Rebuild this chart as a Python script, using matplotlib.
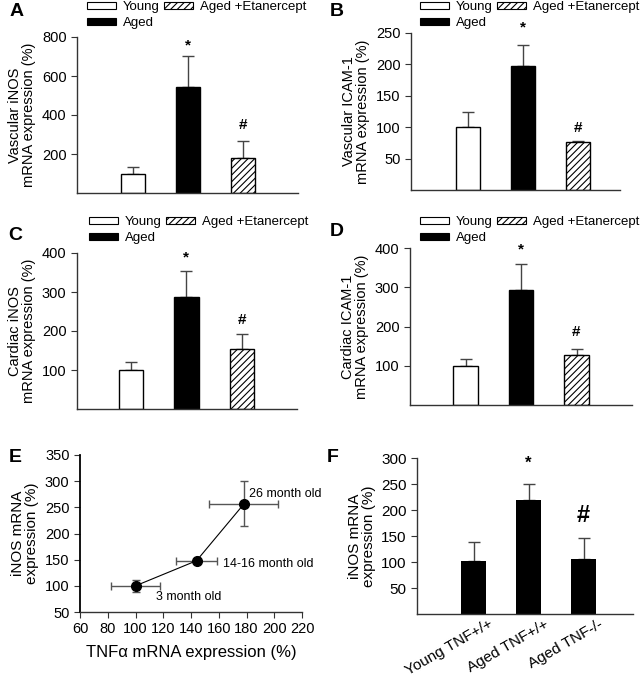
import numpy as np
import matplotlib
matplotlib.use("Agg")
import matplotlib.pyplot as plt
from matplotlib.patches import Patch
from matplotlib.transforms import ScaledTranslation

plt.rcParams['font.family'] = ['Liberation Sans', 'DejaVu Sans']
plt.rcParams['hatch.linewidth'] = 0.8

W, H = 640, 680

groups = ["Young", "Aged", "Aged +Etanercept"]

# panel A-D: mean and upper error (top of error bar)
a_mean = [100, 545, 180]
a_top = [135, 705, 265]
b_mean = [100, 198, 76]
b_top = [124, 231, 78]
c_mean = [100, 287, 153]
c_top = [120, 353, 193]
d_mean = [100, 293, 128]
d_top = [118, 360, 143]

# panel E
e_tnf = [100, 144, 178]
e_tnf_err = [18, 15, 25]
e_inos = [100, 148, 256]
e_inos_lo = [12, 0, 42]
e_inos_hi = [12, 0, 44]
e_labels = ["3 month old", "14-16 month old", "26 month old"]
e_label_xy = [(115, 79), (163, 142), (182, 275)]

# panel F
f_cats = ["Young TNF+/+", "Aged TNF+/+", "Aged TNF-/-"]
f_mean = [101, 220, 106]
f_top = [138, 250, 146]

fig = plt.figure(figsize=(6.4, 6.8), dpi=100)


def px_axes(l, r, t, b):
    return fig.add_axes([l / W, 1 - b / H, (r - l) / W, (b - t) / H])


def style(ax, fs=10.5):
    for s in ['top', 'right']:
        ax.spines[s].set_visible(False)
    for s in ['left', 'bottom']:
        ax.spines[s].set_color('#333333')
        ax.spines[s].set_linewidth(1.0)
    ax.tick_params(axis='y', direction='out', length=4, labelsize=fs, color='#333333')


def mark(ax, sym, x, y, off_px, fs):
    # off_px: distance in pixels from error bar top to symbol centre
    ax.annotate(sym, (x, y), xytext=(0, off_px * 0.72), textcoords='offset points',
                ha='center', va='center', fontsize=fs, fontweight='bold')


faces = ['white', 'black', 'white']
hatches = [None, None, '/////']


def bar_panel(ax, mean, top, ylim, yticks, xlim, ylabel, star_off, hash_off):
    x = np.arange(1, 4)
    err = np.array(top) - np.array(mean)
    ax.bar(x, mean, width=0.44, color=faces, edgecolor='black', linewidth=1.0,
           hatch=hatches, zorder=2)
    ax.errorbar(x, mean, yerr=[np.zeros(3), err], fmt='none', ecolor='#444444',
                elinewidth=1.0, capsize=4, capthick=1.0, zorder=1)
    ax.set_ylim(*ylim)
    ax.set_yticks(yticks)
    ax.set_xlim(*xlim)
    ax.set_xticks([])
    ax.set_ylabel(ylabel, fontsize=10.5, linespacing=1.0)
    style(ax)
    mark(ax, '*', 2, top[1], star_off, 11)
    mark(ax, '#', 3, top[2], hash_off, 11)


def add_legend(ax, x, y):
    handles = [Patch(facecolor=faces[i], edgecolor='black', hatch=hatches[i], linewidth=0.8)
               for i in range(3)]
    ax.legend(handles, groups, loc='upper left', bbox_to_anchor=(x / W, 1 - y / H),
              bbox_transform=fig.transFigure, ncol=2, frameon=False, fontsize=9.5,
              handlelength=2.2, handleheight=0.5, handletextpad=0.5, columnspacing=0.35,
              labelspacing=0.3, borderpad=0, borderaxespad=0)


axA = px_axes(77, 298, 37, 193)
bar_panel(axA, a_mean, a_top, (0, 800), [200, 400, 600, 800], (-0.02, 4.0),
          "Vascular iNOS\nmRNA expression (%)", 10, 16)
add_legend(axA, 87, 1)

axB = px_axes(411, 620, 33, 190)
bar_panel(axB, b_mean, b_top, (0, 250), [50, 100, 150, 200, 250], (-0.03, 3.77),
          "Vascular ICAM-1\nmRNA expression (%)", 17, 13)
add_legend(axB, 420, 1)

axC = px_axes(77, 297, 253, 409)
bar_panel(axC, c_mean, c_top, (0, 400), [100, 200, 300, 400], (0.02, 4.0),
          "Cardiac iNOS\nmRNA expression (%)", 14, 14)
add_legend(axC, 89, 216)

axD = px_axes(410, 632, 248, 405)
bar_panel(axD, d_mean, d_top, (0, 400), [100, 200, 300, 400], (0.0, 4.0),
          "Cardiac ICAM-1\nmRNA expression (%)", 14, 17)
add_legend(axD, 420, 216)

# panel E
axE = px_axes(80, 302, 455, 612)
axE.errorbar(e_tnf, e_inos, xerr=e_tnf_err, yerr=[e_inos_lo, e_inos_hi], fmt='-o',
             color='black', ms=7, lw=0.8, ecolor='#555555', elinewidth=1.0,
             capsize=3, capthick=1.0, zorder=3)
for lab, (lx, ly) in zip(e_labels, e_label_xy):
    axE.text(lx, ly, lab, fontsize=9, ha='left', va='center')
axE.set_xlim(60, 220)
axE.set_ylim(50, 350)
axE.set_xticks(np.arange(60, 221, 20))
axE.set_yticks(np.arange(50, 351, 50))
axE.set_xlabel("TNFα mRNA expression (%)", fontsize=12, labelpad=6)
axE.set_ylabel("iNOS mRNA\nexpression (%)", fontsize=11, linespacing=1.0)
style(axE, fs=10.5)
axE.tick_params(axis='x', direction='out', length=4, labelsize=10.5, color='#333333')
axE.spines['left'].set_linewidth(1.3)
axE.spines['left'].set_color('black')

# panel F
axF = px_axes(417, 633, 458, 614)
xf = np.arange(1, 4)
axF.bar(xf, f_mean, width=0.45, color='black', zorder=2)
axF.errorbar(xf, f_mean, yerr=[np.zeros(3), np.array(f_top) - np.array(f_mean)],
             fmt='none', ecolor='#444444', elinewidth=1.0, capsize=4, capthick=1.0, zorder=1)
axF.set_xlim(-0.03, 3.9)
axF.set_ylim(0, 300)
axF.set_yticks(np.arange(50, 301, 50))
axF.set_xticks(xf)
axF.set_xticklabels(f_cats, rotation=30, ha='right', va='top', rotation_mode='anchor', fontsize=11)
axF.tick_params(axis='x', length=0, pad=2)
shift = ScaledTranslation(15 / 100, 0, fig.dpi_scale_trans)
for lbl in axF.get_xticklabels():
    lbl.set_transform(lbl.get_transform() + shift)
axF.set_ylabel("iNOS mRNA\nexpression (%)", fontsize=11, linespacing=1.0)
style(axF, fs=11)
mark(axF, '*', 2, f_top[1], 21, 12)
mark(axF, '#', 3, f_top[2], 23, 17)

# panel letters
for lab, (lx, ly) in zip("ABCDEF", [(17, 12), (337, 12), (15, 235), (337, 232), (15, 457), (333, 457)]):
    fig.text(lx / W, 1 - ly / H, lab, fontsize=14, fontweight='bold', ha='center', va='center')

fig.savefig("out.png", dpi=100)
